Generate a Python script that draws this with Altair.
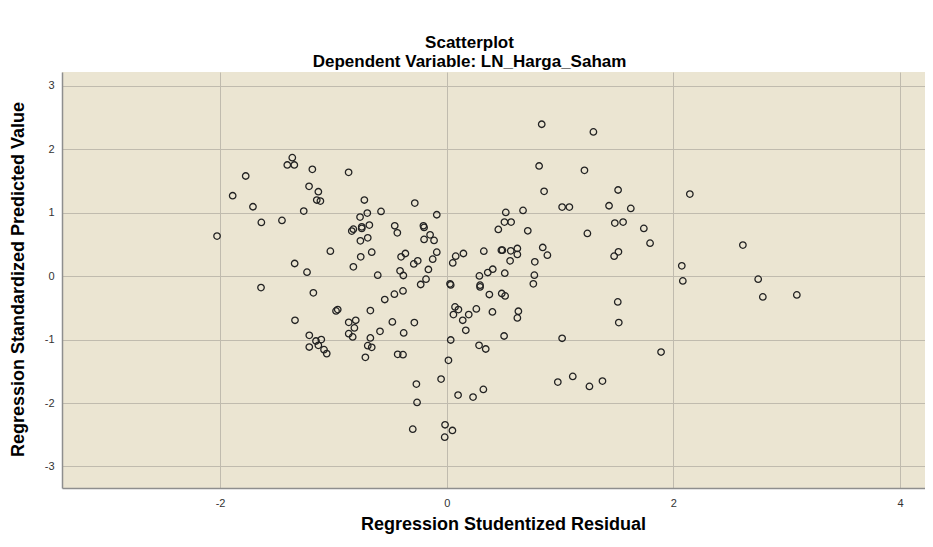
import altair as alt
import pandas as pd

# Regression Studentized Residual (x) and Regression Standardized Predicted Value (y)
residual = [
    -1.363, -1.407, -1.345, -1.186, -0.866, -1.774, -1.215, -1.133, -1.147, -1.115,
    -1.889, -1.710, -1.262, -1.636, -1.454, -2.027, -1.027, -1.342, -1.233, -0.824,
    -1.639, -1.177, -0.977, -0.962, -1.339, -0.865, -0.803, -0.815, -0.865, -0.830,
    -1.213, -1.154, -1.107, -1.213, -1.133, -1.083, -1.059,
    0.838, 1.294, 0.815, 1.215, 0.859, 1.512, 1.018, 1.082, 1.432,
    1.624, 1.483, 1.556, 1.241, 1.515, 1.477, -0.727, -0.282, -0.580, -0.701,
    -0.765, -0.088, -0.838, -0.824, -0.750, -0.750, -0.683, -0.459, -0.436, -0.206,
    -0.200, -0.762, -0.697, -0.147, -0.112, -0.200, -0.662, -0.759, -0.609, -0.403,
    -0.365, -0.291, -0.256, -0.088, -0.124, -0.162, -0.412, -0.383, -0.183, -0.230,
    0.053, 0.079, 0.147, 0.029, 0.327, 0.455, 0.521, 0.509, 0.568, 0.673,
    0.715, 0.482, 0.491, 0.565, 0.623, 0.623, 0.559, 0.847, 0.888, 0.777,
    0.773, 0.764, 0.406, 0.362, 0.288, 0.512,
    -0.547, -0.462, -0.386, -0.674, -0.480, -0.286, -0.589, -0.380, -0.674, -0.697,
    -0.662, -0.718, -0.433, -0.386, 0.035, 0.294, 0.294, 0.376, 0.485, 0.515,
    0.073, 0.103, 0.059, 0.141, 0.194, 0.261, 0.403, 0.168, 0.632, 0.623,
    0.506, 0.035, 0.285, 0.344, 0.015, -0.050, -0.268, -0.262, -0.300, -0.015,
    0.050, -0.018, 0.100, 0.232, 0.323, 1.509, 1.518, 1.018, 0.980, 1.112,
    1.259, 1.374,
    2.145, 1.739, 1.794, 2.613, 2.074, 2.083, 2.748, 2.789, 3.089, 1.891,
]
predicted = [
    1.869, 1.754, 1.754, 1.685, 1.638, 1.580, 1.417, 1.332, 1.201, 1.185,
    1.269, 1.095, 1.027, 0.848, 0.880, 0.632, 0.395, 0.200, 0.063, 0.147,
    -0.179, -0.263, -0.548, -0.526, -0.695, -0.727, -0.695, -0.816, -0.906, -0.958,
    -0.932, -1.022, -1.000, -1.117, -1.090, -1.158, -1.221,
    2.396, 2.275, 1.738, 1.669, 1.338, 1.359, 1.090, 1.090, 1.111,
    1.069, 0.837, 0.853, 0.674, 0.384, 0.316, 1.201, 1.153, 1.022, 0.995,
    0.932, 0.969, 0.711, 0.742, 0.779, 0.753, 0.806, 0.795, 0.684, 0.795,
    0.769, 0.558, 0.605, 0.652, 0.564, 0.580, 0.379, 0.305, 0.016, 0.305,
    0.358, 0.194, 0.242, 0.379, 0.269, 0.106, 0.084, 0.011, -0.047, -0.131,
    0.210, 0.316, 0.358, -0.121, 0.395, 0.737, 1.006, 0.853, 0.853, 1.037,
    0.716, 0.411, 0.411, 0.400, 0.437, 0.343, 0.242, 0.453, 0.332, 0.226,
    0.016, -0.121, 0.110, 0.058, 0.005, 0.047,
    -0.368, -0.284, -0.232, -0.542, -0.721, -0.731, -0.869, -0.895, -0.974, -1.095,
    -1.122, -1.280, -1.232, -1.237, -0.137, -0.142, -0.169, -0.289, -0.273, -0.311,
    -0.485, -0.526, -0.605, -0.695, -0.605, -0.516, -0.564, -0.853, -0.553, -0.658,
    -0.943, -1.006, -1.090, -1.148, -1.327, -1.622, -1.701, -1.990, -2.412, -2.343,
    -2.433, -2.538, -1.875, -1.906, -1.785, -0.406, -0.731, -0.979, -1.670, -1.580,
    -1.738, -1.654,
    1.295, 0.753, 0.521, 0.490, 0.163, -0.074, -0.047, -0.327, -0.295, -1.196,
]

x_ticks = [-2, 0, 2, 4]
y_ticks = [-3, -2, -1, 0, 1, 2, 3]

df = pd.DataFrame({"resid": residual, "pred": predicted})

FONT = "Liberation Sans, Arial, sans-serif"

chart = (
    alt.Chart(df)
    .mark_point(shape="circle", filled=False, size=42, strokeWidth=1.3, color="#222222", opacity=1)
    .encode(
        x=alt.X(
            "resid:Q",
            scale=alt.Scale(domain=[-3.395, 4.22], nice=False, zero=False),
            axis=alt.Axis(
                values=x_ticks,
                labelExpr="'' + datum.value",
                title="Regression Studentized Residual",
                titleX=441,
                titleY=36,
                titleBaseline="middle",
                titleAlign="center",
            ),
        ),
        y=alt.Y(
            "pred:Q",
            scale=alt.Scale(domain=[-3.34, 3.22], nice=False, zero=False),
            axis=alt.Axis(
                values=y_ticks,
                labelExpr="'' + datum.value",
                title="Regression Standardized Predicted Value",
                titleX=-44,
                titleY=207,
                titleAngle=270,
                titleBaseline="middle",
                titleAlign="center",
            ),
        ),
    )
    .properties(
        width=863,
        height=416,
        autosize=alt.AutoSizeParams(type="none"),
        padding={"left": 54, "top": 64, "right": 0, "bottom": 50},
        title=alt.TitleParams(
            text="Scatterplot",
            subtitle="Dependent Variable: LN_Harga_Saham",
            anchor="middle",
            dx=-24,
            offset=1,
            font=FONT,
            fontSize=17,
            fontWeight="bold",
            color="#000000",
            subtitleFont=FONT,
            subtitleFontSize=17,
            subtitleFontWeight="bold",
            subtitleColor="#000000",
            subtitlePadding=2,
        ),
    )
    .configure_view(fill="#EBE5D2", stroke=None)
    .configure_axis(
        grid=True,
        gridColor="#C0BBAE",
        gridWidth=1,
        ticks=False,
        domainColor="#8E8E8E",
        domainWidth=1.5,
        labelFont=FONT,
        labelFontSize=11,
        labelColor="#333333",
        titleFont=FONT,
        titleFontSize=18,
        titleFontWeight="bold",
        titleColor="#000000",
    )
    .configure_axisX(labelPadding=9)
    .configure_axisY(labelPadding=8)
)

chart.save("out.html", embed_options={"renderer": "svg", "actions": False})
